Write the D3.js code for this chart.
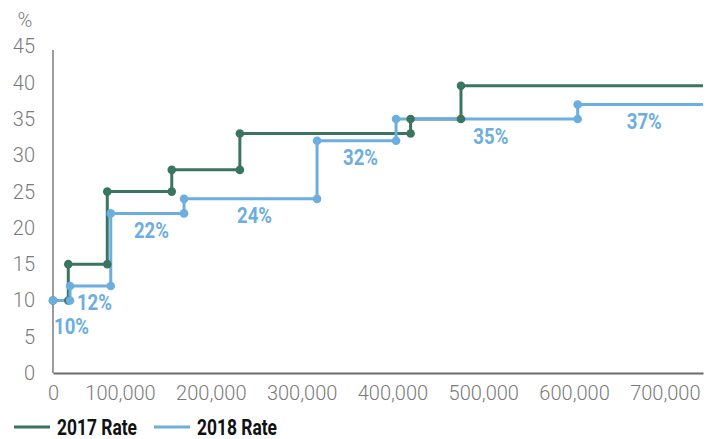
<!DOCTYPE html>
<html>
<head>
<meta charset="utf-8">
<script src="https://cdn.jsdelivr.net/npm/d3@7/dist/d3.min.js"></script>
<style>
  html, body { margin: 0; padding: 0; background: #fff; }
  svg { display: block; }
</style>
</head>
<body>
<svg id="chart" width="718" height="439"></svg>
<script>
// Marginal tax rate by income: bracket start incomes and the rate that applies from each start
const seriesNames = ["2017 Rate", "2018 Rate"];
const bracketStarts2017 = [0, 22800, 81000, 157000, 232000, 420000, 475500];
const rates2017 = [10, 15, 25, 28, 33, 35, 39.6];
const bracketStarts2018 = [0, 25400, 86200, 170500, 317000, 404000, 604000];
const rates2018 = [10, 12, 22, 24, 32, 35, 37];
const rateLabels2018 = ["10%", "12%", "22%", "24%", "32%", "35%", "37%"];
const incomeMax = 742000;
const xTicks = [0, 100000, 200000, 300000, 400000, 500000, 600000, 700000];
const yTicks = [0, 5, 10, 15, 20, 25, 30, 35, 40, 45];

const colors = { "2017 Rate": "#3b7561", "2018 Rate": "#6caee0" };

const svg = d3.select("#chart");

// income axis is stretched between 0 and 100,000 so the lowest brackets stay readable
const x = d3.scaleLinear().domain([0, 100000, incomeMax]).range([53, 120, 703]);
const y = d3.scaleLinear().domain([0, 45]).range([373, 46.5]);

// turn bracket starts + rates into step vertices
function stepPoints(starts, rates) {
  const pts = [[starts[0], rates[0]]];
  for (let i = 1; i < starts.length; i++) {
    pts.push([starts[i], rates[i - 1]]);
    pts.push([starts[i], rates[i]]);
  }
  pts.push([incomeMax, rates[rates.length - 1]]);
  return pts;
}

const series = [
  { name: seriesNames[0], pts: stepPoints(bracketStarts2017, rates2017) },
  { name: seriesNames[1], pts: stepPoints(bracketStarts2018, rates2018) }
];

// y tick labels
const yAxis = d3.axisLeft(y).tickValues(yTicks).tickSize(0).tickPadding(0);
const gy = svg.append("g").attr("transform", "translate(35,0)").call(yAxis);
gy.select(".domain").remove();
gy.selectAll("text")
  .attr("font-family", "Roboto, sans-serif")
  .attr("font-weight", 300)
  .attr("font-size", 20)
  .attr("fill", "#7a7a7a");

svg.append("text")
  .attr("x", 25).attr("y", 20)
  .attr("text-anchor", "middle")
  .attr("dominant-baseline", "central")
  .attr("font-family", "Roboto, sans-serif")
  .attr("font-weight", 300)
  .attr("font-size", 20)
  .attr("fill", "#7a7a7a")
  .text("%");

// vertical axis line
svg.append("line")
  .attr("x1", x(0)).attr("x2", x(0))
  .attr("y1", 50).attr("y2", y(0))
  .attr("stroke", "#5a5a5a").attr("stroke-width", 1.2);

// x axis
const xAxis = d3.axisBottom(x).tickValues(xTicks).tickSize(0).tickPadding(13)
  .tickFormat(d3.format(","));
const gx = svg.append("g").attr("transform", `translate(0,${y(0)})`).call(xAxis);
gx.select(".domain").attr("stroke", "#6b6b6b").attr("stroke-width", 2);
gx.selectAll("text")
  .attr("font-family", "Roboto, sans-serif")
  .attr("font-weight", 300)
  .attr("font-size", 20)
  .attr("fill", "#7a7a7a");

const line = d3.line().x(d => x(d[0])).y(d => y(d[1]));

// step lines first, markers on top of all lines
series.forEach(s => {
  svg.append("path")
    .datum(s.pts)
    .attr("d", line)
    .attr("fill", "none")
    .attr("stroke", colors[s.name])
    .attr("stroke-width", 3);
});
series.forEach(s => {
  svg.append("g").selectAll("circle")
    .data(s.pts.slice(0, -1))
    .join("circle")
    .attr("cx", d => x(d[0]))
    .attr("cy", d => y(d[1]))
    .attr("r", 4.3)
    .attr("fill", colors[s.name]);
});

// rate labels under each 2018 step
svg.append("g").selectAll("text")
  .data(rates2018.map((r, i) => ({
    r, label: rateLabels2018[i],
    x0: bracketStarts2018[i],
    x1: i + 1 < bracketStarts2018.length ? bracketStarts2018[i + 1] : incomeMax
  })))
  .join("text")
  .attr("x", (d, i) => (x(d.x0) + x(d.x1)) / 2 + (i === 0 ? 10 : 4))
  .attr("y", (d, i) => y(d.r) + (i === 0 ? 26 : 17))
  .attr("text-anchor", "middle")
  .attr("dominant-baseline", "central")
  .attr("font-family", "Roboto, sans-serif")
  .attr("font-weight", 700)
  .attr("font-size", 22)
  .attr("textLength", 35)
  .attr("lengthAdjust", "spacingAndGlyphs")
  .attr("fill", colors["2018 Rate"])
  .text(d => d.label);

// legend
const legendX = [14, 154];
seriesNames.forEach((name, i) => {
  const g = svg.append("g").attr("transform", `translate(${legendX[i]},427)`);
  g.append("line").attr("x1", 0).attr("x2", 36).attr("y1", 0).attr("y2", 0)
    .attr("stroke", colors[name]).attr("stroke-width", 3);
  g.append("text")
    .attr("x", 43).attr("y", 8)
    .attr("font-family", "Roboto, sans-serif")
    .attr("font-weight", 700)
    .attr("font-size", 22)
    .attr("textLength", 80)
    .attr("lengthAdjust", "spacingAndGlyphs")
    .attr("fill", "#111")
    .text(name);
});
</script>
</body>
</html>
